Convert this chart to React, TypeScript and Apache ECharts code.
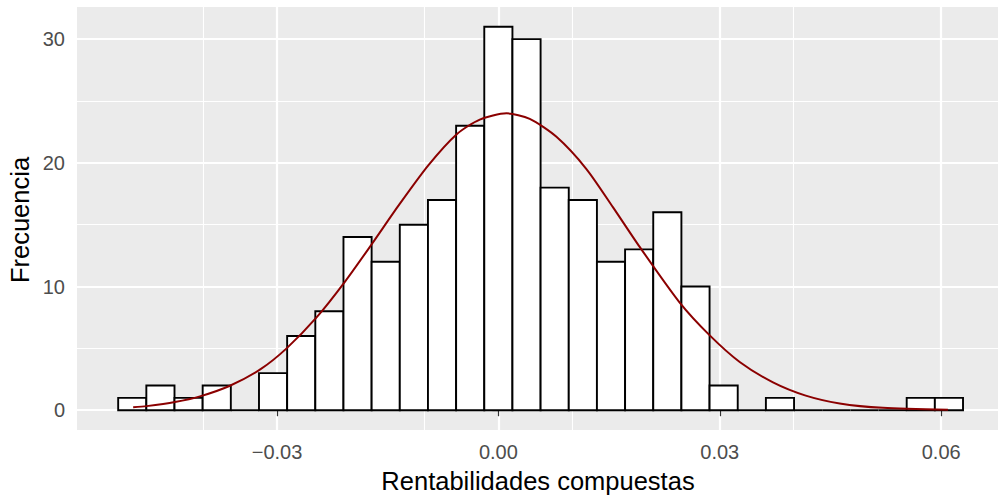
import React, { useEffect, useRef } from "react";
import * as echarts from "echarts";

// Histogram: 30 bins
const binStart = -0.05152;
const binWidth = 0.003816;
const counts = [1, 2, 1, 2, 0, 3, 6, 8, 14, 12, 15, 17, 23, 31, 30, 18, 17, 12, 13, 16, 10, 2, 0, 1, 0, 0, 0, 0, 1, 1];

// Fitted normal curve
const curveX = [-0.04949, -0.04767, -0.04383, -0.04044, -0.03638, -0.03222, -0.0287, -0.02464, -0.02078, -0.01719, -0.01335, -0.00950, -0.00568, -0.00252, 0.0011, 0.00425, 0.00787, 0.01193, 0.01554, 0.01915, 0.02457, 0.02864, 0.0327, 0.03721, 0.04165, 0.04625, 0.05211, 0.06092];
const curveY = [0.24, 0.33, 0.66, 1.12, 1.98, 3.32, 5.0, 7.5, 10.4, 13.4, 16.7, 19.8, 22.3, 23.5, 24.0, 23.55, 22.1, 19.5, 16.4, 13.2, 8.7, 6.05, 3.9, 2.25, 1.18, 0.55, 0.19, 0.03];

// Axes
const xMajor = [-0.03, 0, 0.03, 0.06];
const xMinor = [-0.045, -0.015, 0.015, 0.045];
const yMajor = [0, 10, 20, 30];
const yMinor = [5, 15, 25];
const xMin = -0.0571;
const xMax = 0.0677;
const yMin = -1.6;
const yMax = 32.6;

const xTitle = "Rentabilidades compuestas";
const yTitle = "Frecuencia";

const FONT = "'Liberation Sans', Arial, sans-serif";

export default function App() {
  const ref = useRef<HTMLDivElement>(null);
  useEffect(() => {
    if (!ref.current) return;
    const chart = echarts.init(ref.current, undefined, { renderer: "svg" });
    const barData = counts.map((c, i) => [binStart + i * binWidth, binStart + (i + 1) * binWidth, c]);
    const gridLines: any[] = [];
    xMinor.forEach((v) => gridLines.push({ xAxis: v, lineStyle: { width: 1.1 } }));
    yMinor.forEach((v) => gridLines.push({ yAxis: v, lineStyle: { width: 1.1 } }));
    xMajor.forEach((v) => gridLines.push({ xAxis: v, lineStyle: { width: 2.2 } }));
    yMajor.forEach((v) => gridLines.push({ yAxis: v, lineStyle: { width: 2.2 } }));
    const fmtX = (v: number) => (Math.abs(v) < 1e-12 ? "0.00" : v.toFixed(2)).replace("-", "\u2212");
    chart.setOption({
      animation: false,
      grid: {
        left: 77,
        right: 2,
        top: 7,
        bottom: 65,
        show: true,
        backgroundColor: "#EBEBEB",
        borderWidth: 0,
      },
      xAxis: {
        type: "value",
        min: xMin,
        max: xMax,
        axisLine: { show: false },
        splitLine: { show: false },
        axisTick: {
          show: true,
          customValues: xMajor,
          length: 6,
          lineStyle: { color: "#333333", width: 1.2 },
        },
        axisLabel: {
          customValues: xMajor,
          formatter: fmtX,
          color: "#4D4D4D",
          fontSize: 20,
          fontFamily: FONT,
          margin: 12,
        },
      },
      yAxis: {
        type: "value",
        min: yMin,
        max: yMax,
        axisLine: { show: false },
        splitLine: { show: false },
        axisTick: {
          show: true,
          customValues: yMajor,
          length: 6,
          lineStyle: { color: "#333333", width: 1.2 },
        },
        axisLabel: {
          customValues: yMajor,
          formatter: (v: number) => String(Math.round(v)),
          color: "#4D4D4D",
          fontSize: 20,
          fontFamily: FONT,
          margin: 12,
        },
      },
      series: [
        {
          type: "line",
          z: 0,
          zlevel: 0,
          data: [[0, 0]],
          symbolSize: 0,
          showSymbol: false,
          lineStyle: { opacity: 0 },
          silent: true,
          markLine: {
            z: 0,
            silent: true,
            animation: false,
            symbol: ["none", "none"],
            label: { show: false },
            lineStyle: { color: "#FFFFFF", type: "solid" },
            emphasis: { disabled: true },
            data: gridLines,
          },
        },
        {
          type: "custom",
          z: 10,
          data: barData,
          encode: { x: [0, 1], y: 2 },
          renderItem: (params: any, api: any) => {
            const x0 = api.value(0);
            const x1 = api.value(1);
            const c = api.value(2);
            const pTop = api.coord([x0, c]);
            const pBot = api.coord([x1, 0]);
            if (c === 0) {
              return {
                type: "line",
                shape: { x1: pTop[0], y1: pBot[1], x2: pBot[0], y2: pBot[1] },
                style: { stroke: "#000000", lineWidth: 1.9 },
              };
            }
            return {
              type: "rect",
              shape: { x: pTop[0], y: pTop[1], width: pBot[0] - pTop[0], height: pBot[1] - pTop[1] },
              style: { fill: "#FFFFFF", stroke: "#000000", lineWidth: 1.9 },
            };
          },
        },
        {
          type: "line",
          z: 20,
          data: curveX.map((x, i) => [x, curveY[i]]),
          showSymbol: false,
          smooth: 0.25,
          lineStyle: { color: "#8B0000", width: 2 },
          itemStyle: { color: "#8B0000" },
        },
      ],
      graphic: [
        {
          type: "text",
          x: 538,
          y: 481,
          style: {
            text: xTitle,
            fill: "#000000",
            fontSize: 25.5,
            fontFamily: FONT,
            textAlign: "center",
            textVerticalAlign: "middle",
          },
        },
        {
          type: "text",
          x: 19.5,
          y: 220,
          rotation: Math.PI / 2,
          style: {
            text: yTitle,
            fill: "#000000",
            fontSize: 25.5,
            fontFamily: FONT,
            textAlign: "center",
            textVerticalAlign: "middle",
          },
        },
      ],
    });
    return () => chart.dispose();
  }, []);
  return (
    <div
      ref={ref}
      style={{ position: "fixed", left: 0, top: 0, width: 1000, height: 495, background: "#FFFFFF" }}
    />
  );
}
